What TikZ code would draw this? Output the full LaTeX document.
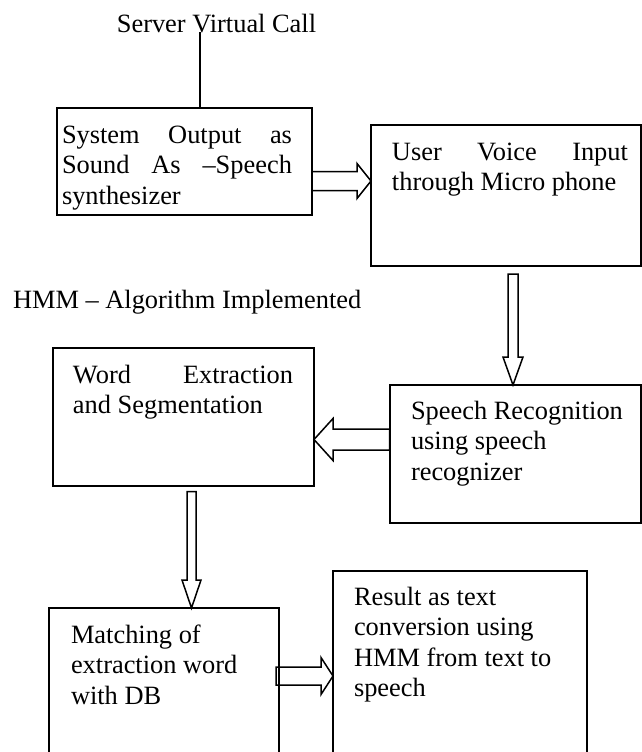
\documentclass[tikz,border=0pt]{standalone}
\usepackage{fontspec}
\setmainfont{Liberation Serif}
\usetikzlibrary{calc,fit}
\tolerance=10000
\hbadness=10000
\hyphenpenalty=10000
\exhyphenpenalty=10000
% right-pointing block arrow: from, to, y-centre, start gap, half shaft, half head, head length
\newcommand\rarr[7]{%
\draw[blockarrow]
 ($(#1.east|-0,#3)+(#4,-#5)$) -- ($(#2.west|-0,#3)+(-#7,-#5)$) -- ($(#2.west|-0,#3)+(-#7,-#6)$)
 -- (#2.west|-0,#3) -- ($(#2.west|-0,#3)+(-#7,#6)$) -- ($(#2.west|-0,#3)+(-#7,#5)$)
 -- ($(#1.east|-0,#3)+(#4,#5)$) -- cycle;}
% left-pointing block arrow
\newcommand\larr[7]{%
\draw[blockarrow]
 ($(#1.west|-0,#3)+(-#4,-#5)$) -- ($(#2.east|-0,#3)+(#7,-#5)$) -- ($(#2.east|-0,#3)+(#7,-#6)$)
 -- (#2.east|-0,#3) -- ($(#2.east|-0,#3)+(#7,#6)$) -- ($(#2.east|-0,#3)+(#7,#5)$)
 -- ($(#1.west|-0,#3)+(-#4,#5)$) -- cycle;}
% downward block arrow: from, to, x-centre, start gap, half shaft, half head, head length
\newcommand\darr[7]{%
\draw[blockarrow]
 ($(#1.south-|#3,0)+(-#5,#4)$) -- ($(#2.north-|#3,0)+(-#5,-#7)$) -- ($(#2.north-|#3,0)+(-#6,-#7)$)
 -- (#2.north-|#3,0) -- ($(#2.north-|#3,0)+(#6,-#7)$) -- ($(#2.north-|#3,0)+(#5,-#7)$)
 -- ($(#1.south-|#3,0)+(#5,#4)$) -- cycle;}
\begin{document}
\begin{tikzpicture}[x=0.5pt,y=-0.5pt,
  box/.style={draw, line width=1pt, inner sep=0pt, outer sep=0pt},
  blockarrow/.style={draw, line width=0.75pt, line join=miter},
  txt/.style={inner sep=0pt, outer sep=0pt, anchor=base west, font=\fontsize{13.2}{15.25}\selectfont},
  jtxt/.style={txt, align=justify},
  ltxt/.style={txt, align=flush left, text width=150pt}]
\useasboundingbox (0,0) rectangle (642,752);
\clip (0,0) rectangle (642,752);
% boxes
\node[box, fit={(57,108) (312,215)}] (b1) {};
\node[box, fit={(371,125) (640.5,266)}] (b2) {};
\node[box, fit={(389.5,385) (640.5,522.5)}] (b3) {};
\node[box, fit={(52.5,348) (314,485.5)}] (b4) {};
\node[box, fit={(49,608) (279,770)}] (b5) {};
\node[box, fit={(333,571) (587,770)}] (b6) {};
% texts
\node[txt, anchor=base] (sv) at (216.5,32) {Server Virtual Call};
\node[txt] (hmm) at (13,308) {HMM – Algorithm Implemented};
\node[jtxt, text width=115pt] (t1) at (62,143) {System Output as\linebreak Sound As –Speech\linebreak synthesizer};
\node[jtxt, text width=118pt] (t2) at (392,160) {User Voice Input\linebreak through Micro phone};
\node[ltxt] (t3) at (411,419) {Speech Recognition\\using speech\\recognizer};
\node[jtxt, text width=110pt] (t4) at (73,383) {Word Extraction\linebreak and Segmentation};
\node[ltxt] (t5) at (71,643) {Matching of\\extraction word\\with DB};
\node[ltxt] (t6) at (354,605) {Result as text\\conversion using\\HMM from text to\\speech};
% connectors
\draw[line width=1pt] (sv.south-|200,0) -- (b1.north-|200,0);
\rarr{b1}{b2}{181}{0}{9.5}{17.5}{14}
\darr{b2}{b3}{513}{8}{5}{10}{28}
\larr{b3}{b4}{439.5}{0}{10.5}{21}{19}
\darr{b4}{b5}{191.5}{6}{4.5}{9.5}{28}
\rarr{b5}{b6}{676}{-3}{9}{18.5}{12}
\end{tikzpicture}
\end{document}
